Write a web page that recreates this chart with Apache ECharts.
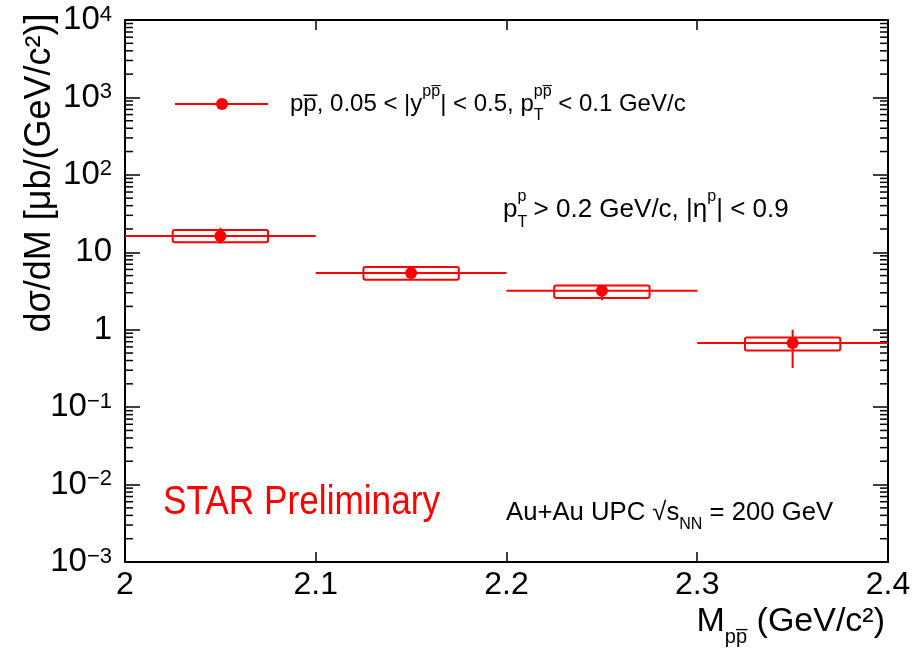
<!DOCTYPE html>
<html>
<head>
<meta charset="utf-8">
<title>STAR p pbar dsigma/dM</title>
<script src="https://cdn.jsdelivr.net/npm/echarts@6/dist/echarts.min.js"></script>
<style>html,body{margin:0;background:#fff;}</style>
</head>
<body>
<div id="main" style="width:916px;height:654px;"></div>
<script type="text/javascript">
// bins in M(p pbar), GeV/c^2
var massCenter = [2.05, 2.15, 2.25, 2.35];
var binLow = [2.0, 2.1, 2.2, 2.3];
var binHigh = [2.1, 2.2, 2.3, 2.4];
// dsigma/dM in ub/(GeV/c^2)
var xsec = [16.2, 5.39, 3.19, 0.673];
var statLow = [12.9, 4.9, 2.4, 0.32];
var statHigh = [20.7, 5.9, 3.75, 1.0];
var sysLow = [13.5, 4.42, 2.56, 0.54];
var sysHigh = [19.4, 6.44, 3.73, 0.796];
var sysHalfWidth = 0.025;

var FONT = "'Liberation Sans', Arial, sans-serif";
var RED = '#ff0000';
var PBAR = 'p\u0305';

// minor ticks 2..9 x 10^k for the log axis
var minorTicks = [];
for (var k = -3; k < 4; k++) {
    for (var m = 2; m < 10; m++) minorTicks.push([2, m * Math.pow(10, k)]);
}

var points = massCenter.map(function (x, i) {
    return [x, xsec[i], binLow[i], binHigh[i], statLow[i], statHigh[i], sysLow[i], sysHigh[i]];
});

function yLabel(v) {
    var e = Math.round(Math.log(v) / Math.LN10);
    if (e === 0) return '1';
    if (e === 1) return '10';
    return '10{s|' + (e < 0 ? '\u2212' + (-e) : e) + '}';
}

var myChart = echarts.init(document.getElementById('main'));

var supStyle = { fontSize: 16, lineHeight: 16, verticalAlign: 'top', fontFamily: FONT, fill: '#000' };
var subStyle = { fontSize: 16, lineHeight: 16, verticalAlign: 'bottom', fontFamily: FONT, fill: '#000' };

var option = {
    backgroundColor: '#fff',
    animation: false,
    grid: { left: 125, right: 28, top: 20, bottom: 92 },
    xAxis: [
        {
            type: 'value', min: 2, max: 2.4, interval: 0.1,
            axisLine: { lineStyle: { color: '#000', width: 2 } },
            axisTick: { inside: true, length: 10, lineStyle: { color: '#000', width: 1.5 } },
            axisLabel: { color: '#000', fontSize: 32, fontFamily: FONT, margin: 7 },
            splitLine: { show: false }
        },
        {
            type: 'value', position: 'top', min: 2, max: 2.4, interval: 0.1,
            axisLine: { lineStyle: { color: '#000', width: 2 } },
            axisTick: { inside: true, length: 10, lineStyle: { color: '#000', width: 1.5 } },
            axisLabel: { show: false },
            splitLine: { show: false }
        }
    ],
    yAxis: [
        {
            type: 'log', logBase: 10, min: 0.001, max: 10000, splitNumber: 7,
            axisLine: { show: true, lineStyle: { color: '#000', width: 2 } },
            axisTick: { show: true, inside: true, length: 15, lineStyle: { color: '#000', width: 1.5 } },
            axisLabel: {
                color: '#000', fontSize: 33, fontFamily: FONT, margin: 13,
                formatter: yLabel,
                rich: { s: { fontSize: 22, fontFamily: FONT, color: '#000', verticalAlign: 'top', lineHeight: 22, padding: [0, 0, 16, 0] } }
            },
            splitLine: { show: false }
        },
        {
            type: 'log', logBase: 10, min: 0.001, max: 10000, splitNumber: 7, position: 'right',
            axisLine: { show: true, lineStyle: { color: '#000', width: 2 } },
            axisTick: { show: true, inside: true, length: 15, lineStyle: { color: '#000', width: 1.5 } },
            axisLabel: { show: false },
            splitLine: { show: false }
        }
    ],
    series: [
        {
            // minor log ticks on left and right frame
            type: 'custom',
            silent: true,
            data: minorTicks,
            renderItem: function (params, api) {
                var v = api.value(1);
                var p = api.coord([2, v]);
                var q = api.coord([2.4, v]);
                return {
                    type: 'group',
                    children: [
                        { type: 'line', shape: { x1: p[0], y1: p[1], x2: p[0] + 8, y2: p[1] }, style: { stroke: '#000', lineWidth: 1.5 } },
                        { type: 'line', shape: { x1: q[0], y1: q[1], x2: q[0] - 8, y2: q[1] }, style: { stroke: '#000', lineWidth: 1.5 } }
                    ]
                };
            }
        },
        {
            type: 'custom',
            data: points,
            encode: { x: 0, y: 1 },
            renderItem: function (params, api) {
                var c = api.coord([api.value(0), api.value(1)]);
                var l = api.coord([api.value(2), api.value(1)]);
                var r = api.coord([api.value(3), api.value(1)]);
                var sLo = api.coord([api.value(0), api.value(4)]);
                var sHi = api.coord([api.value(0), api.value(5)]);
                var b1 = api.coord([api.value(0) - sysHalfWidth, api.value(7)]);
                var b2 = api.coord([api.value(0) + sysHalfWidth, api.value(6)]);
                var st = { stroke: RED, lineWidth: 2, fill: null };
                return {
                    type: 'group',
                    children: [
                        { type: 'line', shape: { x1: l[0], y1: c[1], x2: r[0], y2: c[1] }, style: st },
                        { type: 'line', shape: { x1: c[0], y1: sLo[1], x2: c[0], y2: sHi[1] }, style: st },
                        { type: 'rect', shape: { x: b1[0], y: b1[1], width: b2[0] - b1[0], height: b2[1] - b1[1], r: 2 }, style: { stroke: RED, lineWidth: 2, fill: 'none' } },
                        { type: 'circle', shape: { cx: c[0], cy: c[1], r: 6 }, style: { fill: RED } }
                    ]
                };
            }
        }
    ],
    graphic: [
        // legend entry
        { type: 'line', shape: { x1: 175, y1: 104, x2: 268, y2: 104 }, style: { stroke: RED, lineWidth: 2 } },
        { type: 'circle', shape: { cx: 222, cy: 104, r: 6 }, style: { fill: RED } },
        {
            type: 'text', x: 290, y: 104,
            style: {
                text: 'p' + PBAR + ', 0.05 < |y{sup|p' + PBAR + '}| < 0.5, p{subw|T}{sup|p' + PBAR + '} < 0.1 GeV/c',
                fontSize: 24, fontFamily: FONT, fill: '#000', lineHeight: 40, verticalAlign: 'middle',
                rich: { sup: supStyle, sub: subStyle, subw: Object.assign({ width: 0 }, subStyle) }
            }
        },
        {
            type: 'text', x: 503, y: 210,
            style: {
                text: 'p{subw|T}{sup|p} > 0.2 GeV/c, |\u03b7{sup|p}| < 0.9',
                fontSize: 26, fontFamily: FONT, fill: '#000', lineHeight: 42, verticalAlign: 'middle',
                rich: { sup: supStyle, sub: subStyle, subw: Object.assign({ width: 0 }, subStyle) }
            }
        },
        {
            type: 'text', x: 163, y: 503, scaleX: 0.88,
            style: { text: 'STAR Preliminary', fontSize: 40, fontFamily: FONT, fill: RED, verticalAlign: 'middle' }
        },
        {
            type: 'text', x: 506, y: 513,
            style: {
                text: 'Au+Au UPC \u221as{sub|NN} = 200 GeV',
                fontSize: 25.7, fontFamily: FONT, fill: '#000', lineHeight: 40, verticalAlign: 'middle',
                rich: { sup: supStyle, sub: subStyle }
            }
        },
        {
            type: 'text', x: 885, y: 622,
            style: {
                text: 'M{sub|p' + PBAR + '} (GeV/c\u00b2)',
                fontSize: 34, fontFamily: FONT, fill: '#000', lineHeight: 50, align: 'right', verticalAlign: 'middle',
                rich: { sub: { fontSize: 20, lineHeight: 20, verticalAlign: 'bottom', fontFamily: FONT, fill: '#000' } }
            }
        },
        {
            type: 'text', x: 40, y: 173, rotation: Math.PI / 2,
            style: {
                text: 'd\u03c3/dM [\u03bcb/(GeV/c\u00b2)]',
                fontSize: 36, fontFamily: FONT, fill: '#000', align: 'center', verticalAlign: 'middle'
            }
        }
    ]
};

myChart.setOption(option);
</script>
</body>
</html>
